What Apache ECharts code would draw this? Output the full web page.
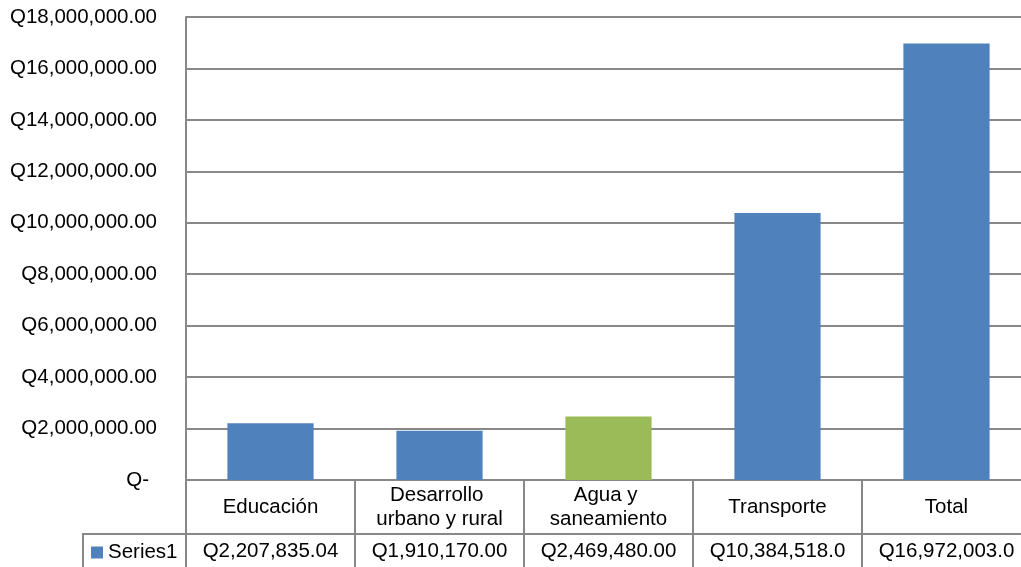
<!DOCTYPE html>
<html>
<head>
<meta charset="utf-8">
<script src="https://cdn.jsdelivr.net/npm/echarts@6/dist/echarts.min.js"></script>
<style>
html,body{margin:0;padding:0;background:#fff;}
#chart{width:1021px;height:567px;}
</style>
</head>
<body>
<div id="chart"></div>
<script>
var categories = ['Educación', 'Desarrollo urbano y rural', 'Agua y saneamiento', 'Transporte', 'Total'];
var values = [2207835.04, 1910170.00, 2469480.00, 10384518.00, 16972003.04];
var highlightIndex = 2;
var seriesName = 'Series1';
var yMin = 0, yMax = 18000000, yStep = 2000000;

var FONT = 'Liberation Sans, Arial, sans-serif';
var FS = 20.5;
var LINE = '#888888';
var BLUE = '#4F81BD';
var GREEN = '#9BBB59';

function money(v) {
  return 'Q' + v.toLocaleString('en-US', {minimumFractionDigits: 2, maximumFractionDigits: 2});
}

var chart = echarts.init(document.getElementById('chart'));
chart.setOption({
  animation: false,
  textStyle: {fontFamily: FONT},
  color: [BLUE],
  legend: {
    left: 86, top: 537,
    itemWidth: 12, itemHeight: 12, itemGap: 5,
    icon: 'rect',
    textStyle: {fontFamily: FONT, fontSize: FS, color: '#000'},
    data: [seriesName]
  },
  grid: {left: 186, top: 17, width: 845, height: 463, containLabel: false, outerBoundsMode: 'none'},
  yAxis: {
    type: 'value', min: yMin, max: yMax, interval: yStep,
    axisLine: {show: true, lineStyle: {color: LINE, width: 2}},
    axisTick: {show: false},
    splitLine: {show: true, lineStyle: {color: LINE, width: 2}},
    axisLabel: {
      margin: 29, fontSize: FS, color: '#000', fontFamily: FONT,
      formatter: function (v) { return v === 0 ? '{z|Q-}' : money(v); },
      rich: {z: {fontSize: FS, fontFamily: FONT, color: '#000', padding: [0, 8, 0, 0]}}
    }
  },
  xAxis: [{
    type: 'category', data: categories, position: 'bottom',
    axisLine: {show: true, lineStyle: {color: LINE, width: 2}},
    axisTick: {show: true, alignWithLabel: false, length: 90, lineStyle: {color: LINE, width: 2}},
    axisLabel: {
      interval: 0, margin: 27, fontSize: FS, color: '#000', fontFamily: FONT,
      verticalAlign: 'middle', align: 'center', lineHeight: 24,
      width: 150, overflow: 'break'
    }
  }, {
    type: 'category', data: categories, position: 'bottom', offset: 54,
    axisLine: {show: true, lineStyle: {color: LINE, width: 2}},
    axisTick: {show: false},
    axisLabel: {
      interval: 0, margin: 17, fontSize: FS, color: '#000', fontFamily: FONT,
      verticalAlign: 'middle', align: 'center',
      width: 140, overflow: 'truncate', ellipsis: '',
      formatter: function (v, i) { return money(values[i]); }
    }
  }],
  graphic: [{
    type: 'polyline',
    shape: {points: [[83, 570], [83, 534], [187, 534]]},
    style: {stroke: LINE, lineWidth: 2, fill: null},
    silent: true
  }],
  series: [{
    name: seriesName, type: 'bar', xAxisIndex: 0,
    barWidth: '51%',
    data: values.map(function (v, i) {
      return i === highlightIndex ? {value: v, itemStyle: {color: GREEN}} : v;
    })
  }]
});
</script>
</body>
</html>
